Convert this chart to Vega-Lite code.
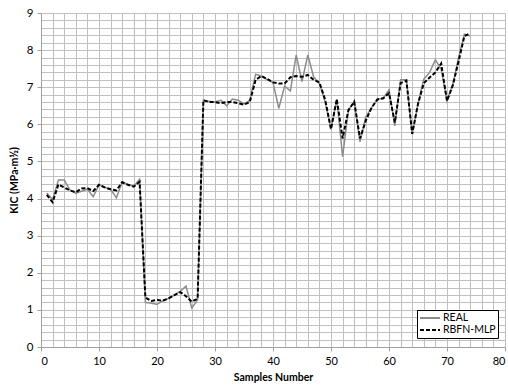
{
  "$schema": "https://vega.github.io/schema/vega-lite/v6.json",
  "width": 464,
  "height": 334,
  "autosize": "none",
  "padding": {"left": 41, "top": 13, "right": 3, "bottom": 44},
  "background": "white",
  "config": {
    "view": {"stroke": null},
    "font": "Lato",
    "axis": {"labelFont": "Lato", "titleFont": "Lato", "labelColor": "#000000", "titleColor": "#000000"}
  },
  "data": {
    "values": [
      {"n": 1, "REAL": 4.15, "RBFN-MLP": 4.1},
      {"n": 2, "REAL": 3.97, "RBFN-MLP": 3.9},
      {"n": 3, "REAL": 4.5, "RBFN-MLP": 4.38},
      {"n": 4, "REAL": 4.5, "RBFN-MLP": 4.3},
      {"n": 5, "REAL": 4.23, "RBFN-MLP": 4.22},
      {"n": 6, "REAL": 4.14, "RBFN-MLP": 4.17},
      {"n": 7, "REAL": 4.2, "RBFN-MLP": 4.27},
      {"n": 8, "REAL": 4.25, "RBFN-MLP": 4.28},
      {"n": 9, "REAL": 4.05, "RBFN-MLP": 4.2},
      {"n": 10, "REAL": 4.37, "RBFN-MLP": 4.37},
      {"n": 11, "REAL": 4.3, "RBFN-MLP": 4.3},
      {"n": 12, "REAL": 4.25, "RBFN-MLP": 4.25},
      {"n": 13, "REAL": 4.02, "RBFN-MLP": 4.22},
      {"n": 14, "REAL": 4.45, "RBFN-MLP": 4.44},
      {"n": 15, "REAL": 4.38, "RBFN-MLP": 4.37},
      {"n": 16, "REAL": 4.33, "RBFN-MLP": 4.32},
      {"n": 17, "REAL": 4.52, "RBFN-MLP": 4.45},
      {"n": 18, "REAL": 1.2, "RBFN-MLP": 1.33},
      {"n": 19, "REAL": 1.18, "RBFN-MLP": 1.24},
      {"n": 20, "REAL": 1.15, "RBFN-MLP": 1.27},
      {"n": 21, "REAL": 1.24, "RBFN-MLP": 1.25},
      {"n": 22, "REAL": 1.31, "RBFN-MLP": 1.31},
      {"n": 23, "REAL": 1.4, "RBFN-MLP": 1.4},
      {"n": 24, "REAL": 1.5, "RBFN-MLP": 1.48},
      {"n": 25, "REAL": 1.64, "RBFN-MLP": 1.37},
      {"n": 26, "REAL": 1.05, "RBFN-MLP": 1.22},
      {"n": 27, "REAL": 1.27, "RBFN-MLP": 1.3},
      {"n": 28, "REAL": 6.65, "RBFN-MLP": 6.65},
      {"n": 29, "REAL": 6.62, "RBFN-MLP": 6.6},
      {"n": 30, "REAL": 6.6, "RBFN-MLP": 6.6},
      {"n": 31, "REAL": 6.65, "RBFN-MLP": 6.57},
      {"n": 32, "REAL": 6.5, "RBFN-MLP": 6.6},
      {"n": 33, "REAL": 6.68, "RBFN-MLP": 6.6},
      {"n": 34, "REAL": 6.65, "RBFN-MLP": 6.57},
      {"n": 35, "REAL": 6.55, "RBFN-MLP": 6.53},
      {"n": 36, "REAL": 6.65, "RBFN-MLP": 6.6},
      {"n": 37, "REAL": 7.35, "RBFN-MLP": 7.2},
      {"n": 38, "REAL": 7.3, "RBFN-MLP": 7.3},
      {"n": 39, "REAL": 7.2, "RBFN-MLP": 7.22},
      {"n": 40, "REAL": 7.13, "RBFN-MLP": 7.13},
      {"n": 41, "REAL": 6.43, "RBFN-MLP": 7.1},
      {"n": 42, "REAL": 7.03, "RBFN-MLP": 7.1},
      {"n": 43, "REAL": 6.9, "RBFN-MLP": 7.27},
      {"n": 44, "REAL": 7.87, "RBFN-MLP": 7.3},
      {"n": 45, "REAL": 7.15, "RBFN-MLP": 7.28},
      {"n": 46, "REAL": 7.87, "RBFN-MLP": 7.33},
      {"n": 47, "REAL": 7.28, "RBFN-MLP": 7.2},
      {"n": 48, "REAL": 7.1, "RBFN-MLP": 7.13},
      {"n": 49, "REAL": 6.6, "RBFN-MLP": 6.66},
      {"n": 50, "REAL": 5.87, "RBFN-MLP": 5.87},
      {"n": 51, "REAL": 6.68, "RBFN-MLP": 6.68},
      {"n": 52, "REAL": 5.13, "RBFN-MLP": 5.62},
      {"n": 53, "REAL": 6.38, "RBFN-MLP": 6.38},
      {"n": 54, "REAL": 6.61, "RBFN-MLP": 6.61},
      {"n": 55, "REAL": 5.53, "RBFN-MLP": 5.62},
      {"n": 56, "REAL": 6.2, "RBFN-MLP": 6.1},
      {"n": 57, "REAL": 6.45, "RBFN-MLP": 6.45},
      {"n": 58, "REAL": 6.68, "RBFN-MLP": 6.67},
      {"n": 59, "REAL": 6.7, "RBFN-MLP": 6.7},
      {"n": 60, "REAL": 6.93, "RBFN-MLP": 6.84},
      {"n": 61, "REAL": 5.96, "RBFN-MLP": 6.05},
      {"n": 62, "REAL": 7.2, "RBFN-MLP": 7.11},
      {"n": 63, "REAL": 7.2, "RBFN-MLP": 7.18},
      {"n": 64, "REAL": 5.74, "RBFN-MLP": 5.74},
      {"n": 65, "REAL": 6.55, "RBFN-MLP": 6.55},
      {"n": 66, "REAL": 7.22, "RBFN-MLP": 7.11},
      {"n": 67, "REAL": 7.4, "RBFN-MLP": 7.26},
      {"n": 68, "REAL": 7.74, "RBFN-MLP": 7.4},
      {"n": 69, "REAL": 7.48, "RBFN-MLP": 7.64},
      {"n": 70, "REAL": 6.63, "RBFN-MLP": 6.63},
      {"n": 71, "REAL": 7.08, "RBFN-MLP": 7.05},
      {"n": 72, "REAL": 7.8, "RBFN-MLP": 7.7},
      {"n": 73, "REAL": 8.43, "RBFN-MLP": 8.38},
      {"n": 74, "REAL": 8.38, "RBFN-MLP": 8.45}
    ]
  },
  "transform": [{"fold": ["REAL", "RBFN-MLP"], "as": ["series", "k"]}],
  "encoding": {
    "x": {
      "field": "n", "type": "quantitative",
      "scale": {"domain": [0, 80], "nice": false},
      "axis": {
        "title": "Samples Number",
        "titleFontWeight": "bold", "titleFontSize": 10.5, "titlePadding": 6,
        "values": [0,2,4,6,8,10,12,14,16,18,20,22,24,26,28,30,32,34,36,38,40,42,44,46,48,50,52,54,56,58,60,62,64,66,68,70,72,74,76,78,80],
        "labelExpr": "datum.value % 10 === 0 ? format(datum.value, 'd') : ''",
        "labelFontSize": 11, "labelPadding": 4,
        "grid": true, "gridColor": "#c0c0c0", "gridWidth": 1,
        "domainColor": "#a0a0a0",
        "tickColor": "#a0a0a0",
        "tickSize": 4,
        "tickOpacity": {"condition": {"test": "datum.value % 10 === 0", "value": 1}, "value": 0}
      }
    },
    "y": {
      "field": "k", "type": "quantitative",
      "scale": {"domain": [0, 9], "nice": false},
      "axis": {
        "title": "KIC (MPa·m½)",
        "titleFontWeight": "bold", "titleFontSize": 10.5, "titlePadding": 7,
        "values": [0,0.2,0.4,0.6,0.8,1,1.2,1.4,1.6,1.8,2,2.2,2.4,2.6,2.8,3,3.2,3.4,3.6,3.8,4,4.2,4.4,4.6,4.8,5,5.2,5.4,5.6,5.8,6,6.2,6.4,6.6,6.8,7,7.2,7.4,7.6,7.8,8,8.2,8.4,8.6,8.8,9],
        "labelExpr": "datum.value % 1 === 0 ? format(datum.value, 'd') : ''",
        "labelFontSize": 11.5, "labelPadding": 4,
        "grid": true, "gridColor": "#c0c0c0", "gridWidth": 1,
        "domainColor": "#a0a0a0",
        "tickColor": "#a0a0a0",
        "tickSize": 4,
        "tickOpacity": {"condition": {"test": "datum.value % 1 === 0", "value": 1}, "value": 0}
      }
    },
    "color": {
      "field": "series", "type": "nominal",
      "scale": {"domain": ["REAL", "RBFN-MLP"], "range": ["#8c8c8c", "#000000"]},
      "legend": {
        "title": null, "orient": "none", "legendX": 376, "legendY": 297,
        "strokeColor": "#000000", "fillColor": "white", "padding": 2,
        "symbolType": "stroke", "symbolSize": 400, "symbolStrokeWidth": 1.8,
        "clipHeight": 12,
        "labelFontSize": 10.5, "labelFont": "Lato", "rowPadding": 0, "labelOffset": 2,
        "cornerRadius": 0
      }
    },
    "strokeDash": {
      "field": "series", "type": "nominal",
      "scale": {"domain": ["REAL", "RBFN-MLP"], "range": [[1, 0], [4, 2]]},
      "legend": null
    }
  },
  "layer": [
    {
      "transform": [{"filter": "datum.series === 'REAL'"}],
      "mark": {"type": "line", "strokeWidth": 1.5}
    },
    {
      "transform": [{"filter": "datum.series === 'RBFN-MLP'"}],
      "mark": {"type": "line", "strokeWidth": 2}
    }
  ]
}
